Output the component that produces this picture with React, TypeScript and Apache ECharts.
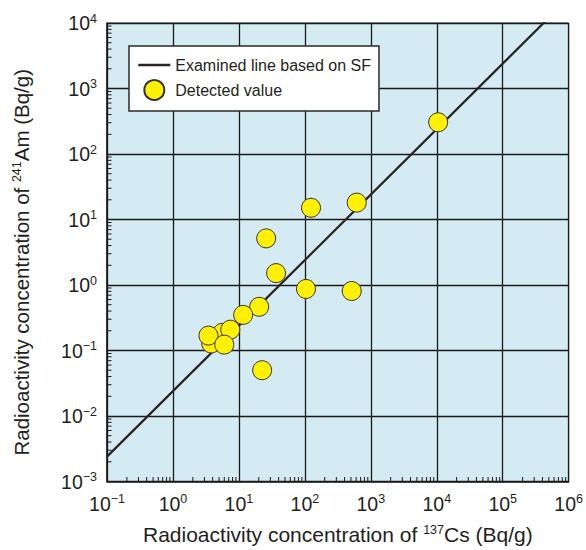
import React, { useEffect, useRef } from "react";
import * as echarts from "echarts";

// Detected values: 137Cs (x) vs 241Am (y), Bq/g
const csValues = [10500, 124, 611, 25.9, 36.6, 104, 513, 20.3, 11.6, 3.8, 5.6, 3.45, 7.4, 6.0, 22.5];
const amValues = [305, 15.1, 18.1, 5.15, 1.52, 0.87, 0.81, 0.465, 0.35, 0.128, 0.186, 0.169, 0.208, 0.123, 0.05];

// Examined line based on SF (end points)
const lineCs = [0.1, 1000000];
const lineAm = [0.0024, 24000];

const minorSteps = [2, 3, 4, 5, 6, 7, 8, 9];
const xDecades = [0.1, 1, 10, 100, 1000, 10000, 100000];
const yDecades = [0.001, 0.01, 0.1, 1, 10, 100, 1000];

const X_MIN = 0.1;
const X_MAX = 1000000;
const Y_MIN = 0.001;
const Y_MAX = 10000;

const FONT = "'Liberation Sans', Arial, Helvetica, sans-serif";
const TXT = "#231f20";
const LINE_COLOR = "#2b2323";

function supLabel(v: number) {
  const e = Math.round(Math.log10(v));
  const s = e < 0 ? "\u2212" + -e : String(e);
  return `{b|10}{s|${s}}`;
}

export default function App() {
  const ref = useRef<HTMLDivElement>(null);
  useEffect(() => {
    if (!ref.current) return;
    const chart = echarts.init(ref.current, null, { renderer: "svg" });

    const xMinor: number[][] = [];
    xDecades.forEach((d) => minorSteps.forEach((m) => xMinor.push([d * m, Y_MIN])));
    const yMinor: number[][] = [];
    yDecades.forEach((d) => minorSteps.forEach((m) => yMinor.push([X_MIN, d * m])));

    const labelRich = {
      b: { fontSize: 19.5, fontFamily: FONT, color: TXT, lineHeight: 22 },
      s: { fontSize: 12.5, fontFamily: FONT, color: TXT, lineHeight: 13, verticalAlign: "top" },
    };
    const xNameRich = {
      t: { fontSize: 21, fontFamily: FONT, color: TXT, lineHeight: 22 },
      s: { fontSize: 12.5, fontFamily: FONT, color: TXT, lineHeight: 12, verticalAlign: "top" },
    };
    const yNameRich = {
      t: { fontSize: 20.5, fontFamily: FONT, color: TXT, lineHeight: 22 },
      s: { fontSize: 12.5, fontFamily: FONT, color: TXT, lineHeight: 12, verticalAlign: "top" },
    };

    chart.setOption({
      animation: false,
      backgroundColor: "#ffffff",
      grid: {
        left: 107,
        right: 15,
        top: 23,
        bottom: 65,
        show: true,
        backgroundColor: "#d5ebf3",
        borderColor: "#3a3a3a",
        borderWidth: 1,
      },
      legend: {
        left: 129,
        top: 46,
        orient: "vertical",
        backgroundColor: "#ffffff",
        borderColor: "#2a2a2a",
        borderWidth: 1.5,
        borderRadius: 0,
        padding: [11, 8, 10, 8],
        itemWidth: 32,
        itemHeight: 20,
        itemGap: 6,
        lineStyle: { width: 2.6, color: LINE_COLOR },
        textStyle: { fontSize: 16, fontFamily: FONT, color: TXT },
        data: [
          {
            name: "Examined line based on SF",
            itemStyle: { color: "rgba(0,0,0,0)", borderColor: "rgba(0,0,0,0)", borderWidth: 0, opacity: 0 },
            lineStyle: { color: LINE_COLOR, width: 2.6 },
          },
          { name: "Detected value" },
        ],
      },
      xAxis: {
        type: "log",
        logBase: 10,
        min: X_MIN,
        max: X_MAX,
        splitNumber: 10,
        axisLine: { show: true, lineStyle: { color: "#1a1a1a", width: 1.5 } },
        axisTick: { show: false },
        splitLine: { show: true, lineStyle: { color: "#1a1a1a", width: 1.3 } },
        axisLabel: { margin: 11, formatter: supLabel, rich: labelRich },
        name: "{t|Radioactivity concentration of }{s|137}{t|Cs (Bq/g)}",
        nameLocation: "middle",
        nameGap: 42,
        nameTextStyle: { rich: xNameRich },
      },
      yAxis: {
        type: "log",
        logBase: 10,
        min: Y_MIN,
        max: Y_MAX,
        splitNumber: 10,
        axisLine: { show: true, lineStyle: { color: "#1a1a1a", width: 1.5 } },
        axisTick: { show: false },
        splitLine: { show: true, lineStyle: { color: "#1a1a1a", width: 1.3 } },
        axisLabel: { margin: 10, formatter: supLabel, rich: labelRich },
        name: "{t|Radioactivity concentration of }{s|241}{t|Am (Bq/g)}",
        nameLocation: "middle",
        nameGap: 75,
        nameTextStyle: { rich: yNameRich, padding: [0, 20, 0, 0] },
      },
      series: [
        {
          type: "custom",
          silent: true,
          clip: false,
          data: xMinor,
          z: 3,
          renderItem: (params: any, api: any) => {
            const p = api.coord([api.value(0), api.value(1)]);
            return {
              type: "line",
              shape: { x1: p[0], y1: p[1], x2: p[0], y2: p[1] - 4.5 },
              style: { stroke: "#1a1a1a", lineWidth: 1 },
            };
          },
        },
        {
          type: "custom",
          silent: true,
          clip: false,
          data: yMinor,
          z: 3,
          renderItem: (params: any, api: any) => {
            const p = api.coord([api.value(0), api.value(1)]);
            return {
              type: "line",
              shape: { x1: p[0], y1: p[1], x2: p[0] + 4.5, y2: p[1] },
              style: { stroke: "#1a1a1a", lineWidth: 1 },
            };
          },
        },
        {
          name: "Examined line based on SF",
          type: "line",
          symbol: "none",
          clip: true,
          z: 4,
          lineStyle: { color: LINE_COLOR, width: 2.2 },
          itemStyle: { color: LINE_COLOR },
          data: lineCs.map((c, i) => [c, lineAm[i]]),
        },
        {
          name: "Detected value",
          type: "scatter",
          symbol: "circle",
          symbolSize: 19,
          z: 5,
          itemStyle: { color: "#fff100", borderColor: "#333333", borderWidth: 1, opacity: 1 },
          data: csValues.map((c, i) => [c, amValues[i]]),
        },
      ],
    });
    return () => chart.dispose();
  }, []);
  return (
    <div
      ref={ref}
      style={{ position: "fixed", left: 0, top: 0, width: 586, height: 550 }}
    />
  );
}
